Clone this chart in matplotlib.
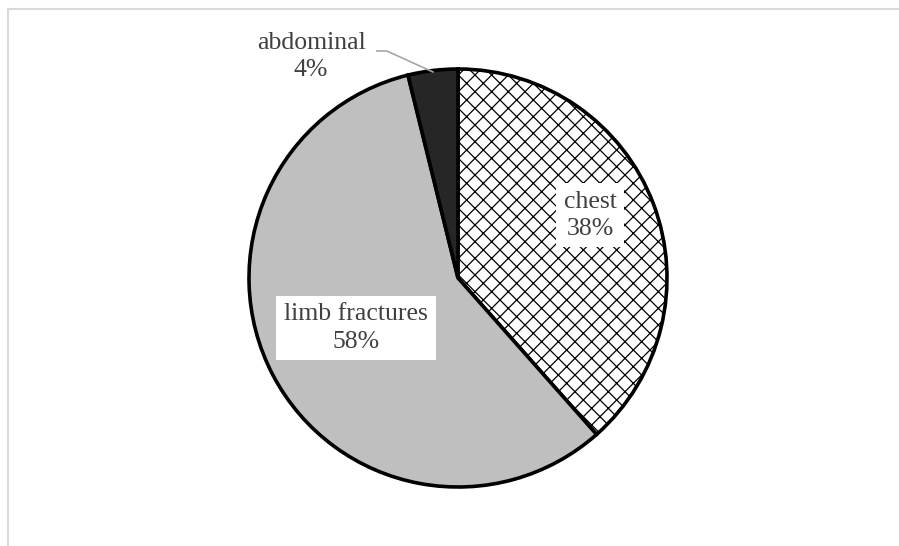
import matplotlib.pyplot as plt
from matplotlib.lines import Line2D

# datos (conteos)
categorias = ['chest', 'limb fractures', 'abdominal']
valores = [10, 15, 1]
colores = ['white', '#bfbfbf', '#262626']

plt.rcParams['font.family'] = ['Liberation Serif', 'DejaVu Serif']
plt.rcParams['hatch.color'] = 'black'
plt.rcParams['hatch.linewidth'] = 0.9

W, H = 899, 546
fig = plt.figure(figsize=(W / 100, H / 100), dpi=100)

# marco gris claro (recortado)
fig.add_artist(Line2D([8 / W, 1], [1 - 9 / H, 1 - 9 / H], color='#d9d9d9', lw=1.5))
fig.add_artist(Line2D([8 / W, 8 / W], [0, 1 - 9 / H], color='#d9d9d9', lw=1.5))

# ejes colocados para centro (458, 278) px y radio 209 px
cx, cy, r = 458, 278, 209
lim = 1.3
lado = 2 * lim * r
ax = fig.add_axes([(cx - lim * r) / W, (H - cy - lim * r) / H, lado / W, lado / H])

wedges, _ = ax.pie(valores, colors=colores, startangle=90, counterclock=False,
                   radius=1, wedgeprops=dict(edgecolor='black', linewidth=2.6))
wedges[0].set_hatch('xx')
ax.set_xlim(-lim, lim)
ax.set_ylim(-lim, lim)
ax.set_aspect('equal')
ax.axis('off')

total = sum(valores)
etiquetas = [f"{c}\n{round(100 * v / total)}%" for c, v in zip(categorias, valores)]

estilo = dict(ha='center', va='center', fontsize=18.5, color='#404040', linespacing=1.3)
caja = dict(boxstyle='square,pad=0.3', facecolor='white', edgecolor='none')
ax.text(0.632, 0.301, etiquetas[0], bbox=caja, **estilo)
ax.text(-0.488, -0.239, etiquetas[1], bbox=caja, **estilo)
ax.text(-0.703, 1.060, etiquetas[2], **estilo)

# linea guia de "abdominal"
ax.plot([-0.388, -0.340, -0.120], [1.086, 1.086, 0.986], color='#a6a6a6', lw=1.2)

fig.savefig('out.png', dpi=100)
